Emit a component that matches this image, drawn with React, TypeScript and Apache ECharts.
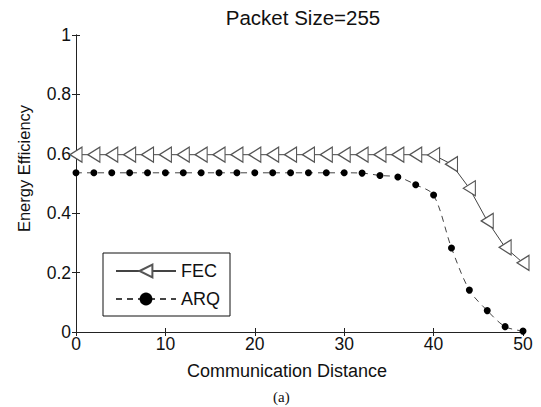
import React, { useEffect, useRef } from "react";
import * as echarts from "echarts";

const distances = [0, 2, 4, 6, 8, 10, 12, 14, 16, 18, 20, 22, 24, 26, 28, 30, 32, 34, 36, 38, 40, 42, 44, 46, 48, 50];
const fecValues = [0.597, 0.597, 0.597, 0.597, 0.597, 0.597, 0.597, 0.597, 0.597, 0.597, 0.597, 0.597, 0.597, 0.597, 0.597, 0.597, 0.597, 0.597, 0.597, 0.597, 0.596, 0.565, 0.484, 0.374, 0.285, 0.233];
const arqValues = [0.536, 0.536, 0.536, 0.536, 0.536, 0.536, 0.536, 0.536, 0.536, 0.536, 0.536, 0.536, 0.536, 0.536, 0.536, 0.536, 0.535, 0.527, 0.522, 0.496, 0.461, 0.283, 0.141, 0.072, 0.018, 0.003];
const xTicks = [0, 10, 20, 30, 40, 50];
const yTicks = [0, 0.2, 0.4, 0.6, 0.8, 1];

const FONT = "Liberation Sans";

export default function App() {
  const ref = useRef<HTMLDivElement>(null);
  useEffect(() => {
    if (!ref.current) return;
    const chart = echarts.init(ref.current, undefined, { renderer: "svg" });
    const axisLine = { show: true, lineStyle: { color: "#222", width: 1 } };
    const tick = { show: true, inside: true, length: 4, lineStyle: { color: "#222" } };
    chart.setOption({
      animation: false,
      backgroundColor: "#fff",
      title: {
        text: "Packet Size=255",
        left: 298,
        textAlign: "center",
        top: 2,
        textStyle: { fontFamily: FONT, fontSize: 20.5, fontWeight: "normal", color: "#111" },
      },
      grid: { left: 76, right: 18, top: 35, bottom: 75 },
      legend: {
        left: 103,
        top: 253,
        orient: "vertical",
        backgroundColor: "#fff",
        borderColor: "#111",
        borderWidth: 1,
        borderRadius: 0,
        padding: [9, 10, 8, 12],
        itemWidth: 60,
        itemHeight: 16,
        itemGap: 10,
        textStyle: { fontFamily: FONT, fontSize: 18, color: "#111" },
        data: ["FEC", "ARQ"],
      },
      xAxis: [
        {
          type: "value",
          min: xTicks[0],
          max: xTicks[xTicks.length - 1],
          interval: 10,
          name: "Communication Distance",
          nameLocation: "middle",
          nameGap: 30,
          nameTextStyle: { fontFamily: FONT, fontSize: 18, color: "#111", padding: [0, 25, 0, 0] },
          axisLine,
          axisTick: tick,
          splitLine: { show: false },
          axisLabel: { fontFamily: FONT, fontSize: 17.5, color: "#111", margin: 3 },
        },
        {
          type: "value",
          position: "top",
          min: xTicks[0],
          max: xTicks[xTicks.length - 1],
          interval: 10,
          axisLine,
          axisTick: tick,
          splitLine: { show: false },
          axisLabel: { show: false },
        },
      ],
      yAxis: [
        {
          type: "value",
          min: yTicks[0],
          max: yTicks[yTicks.length - 1],
          interval: 0.2,
          name: "Energy Efficiency",
          nameLocation: "middle",
          nameGap: 44,
          nameTextStyle: { fontFamily: FONT, fontSize: 16.5, color: "#111", padding: [0, 0, 0, 30] },
          axisLine,
          axisTick: tick,
          splitLine: { show: false },
          axisLabel: { fontFamily: FONT, fontSize: 17.5, color: "#111", margin: 5 },
        },
        {
          type: "value",
          position: "right",
          min: yTicks[0],
          max: yTicks[yTicks.length - 1],
          interval: 0.2,
          axisLine,
          axisTick: tick,
          splitLine: { show: false },
          axisLabel: { show: false },
        },
      ],
      series: [
        {
          name: "FEC",
          type: "line",
          data: distances.map((d, i) => [d, fecValues[i]]),
          symbol: "triangle",
          symbolRotate: 90,
          symbolSize: [15, 12],
          showAllSymbol: true,
          clip: false,
          lineStyle: { color: "#444", width: 1 },
          itemStyle: { color: "#fff", borderColor: "#555", borderWidth: 1.2 },
          z: 3,
        },
        {
          name: "ARQ",
          type: "line",
          data: distances.map((d, i) => [d, arqValues[i]]),
          symbol: "circle",
          symbolSize: 7,
          showAllSymbol: true,
          clip: false,
          smooth: 0.3,
          lineStyle: { color: "#444", width: 1, type: [6, 5] },
          itemStyle: { color: "#000", borderColor: "#000", borderWidth: 0 },
          z: 2,
        },
      ],
      graphic: [
        {
          type: "text",
          left: 273,
          top: 389,
          style: { text: "(a)", font: "15px 'Liberation Serif', serif", fill: "#111" },
        },
      ],
    });
    return () => chart.dispose();
  }, []);
  return <div ref={ref} style={{ width: 541, height: 407, position: "absolute", left: 0, top: 0 }} />;
}
